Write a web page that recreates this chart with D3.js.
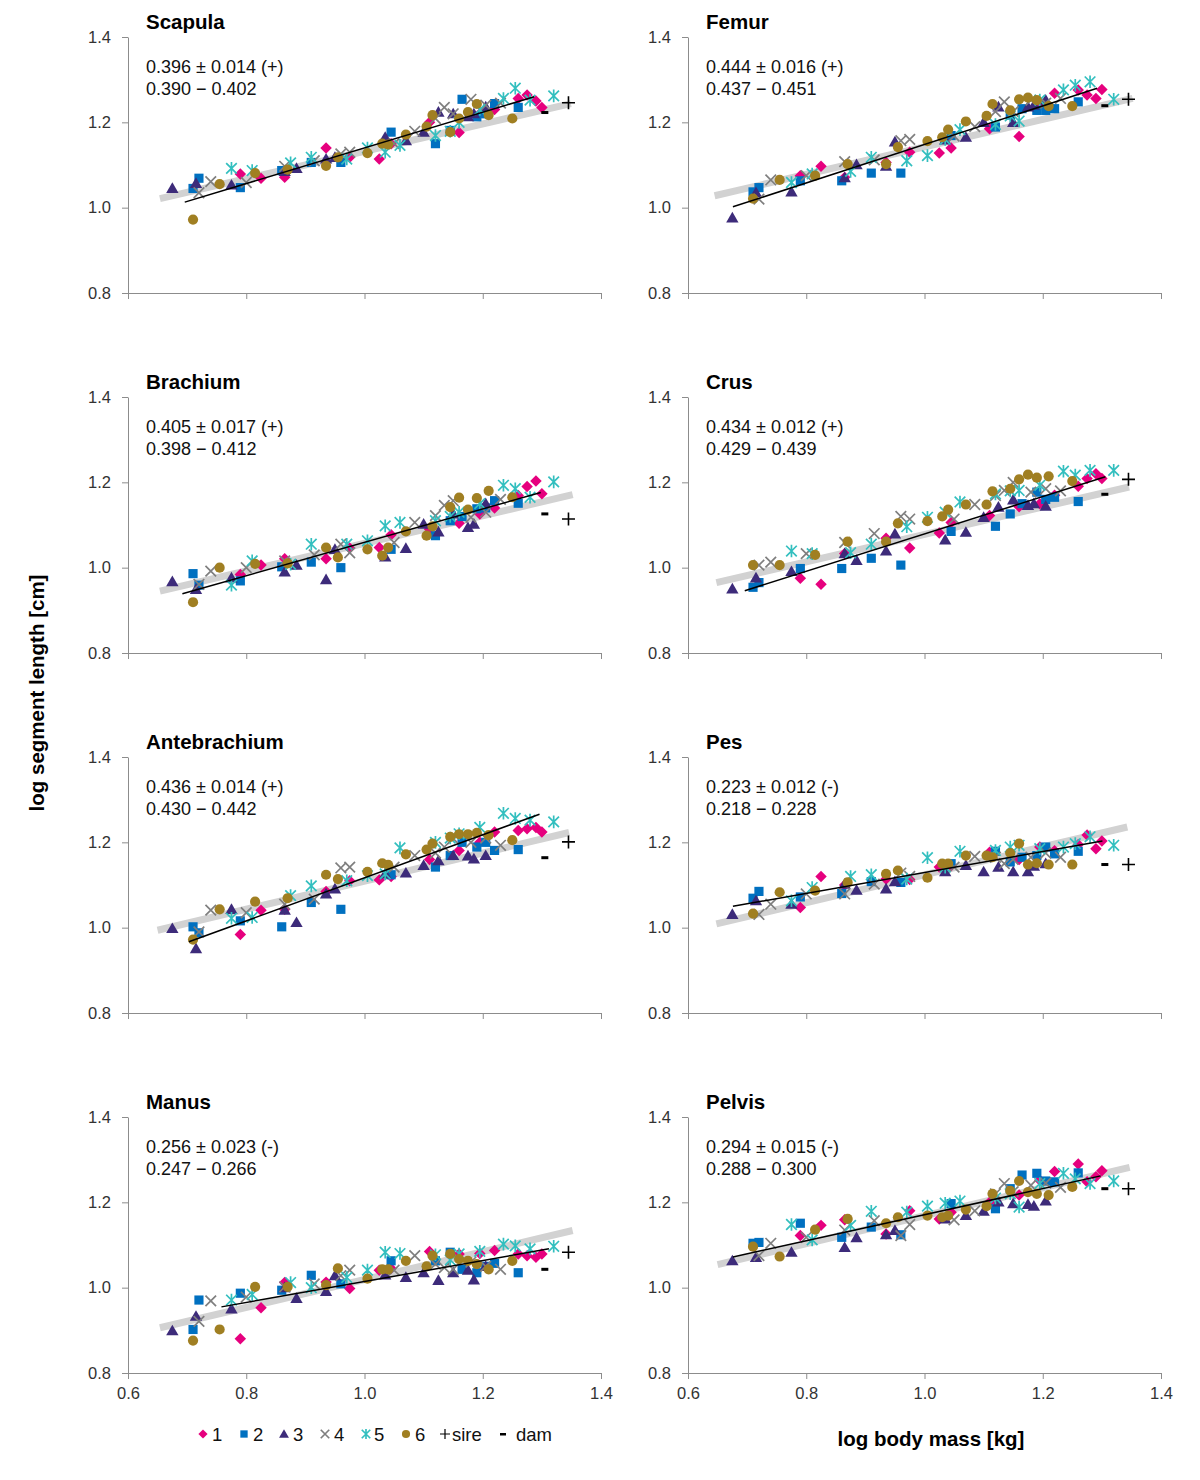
<!DOCTYPE html>
<html><head><meta charset="utf-8">
<script src="https://cdn.jsdelivr.net/npm/d3@7"></script>
<style>body{margin:0;background:#fff}text{font-family:"Liberation Sans",Arial,sans-serif}</style>
</head><body><svg id="c" width="1200" height="1480"></svg>
<script>
const panelNames = ["Scapula","Femur","Brachium","Crus","Antebrachium","Pes","Manus","Pelvis"];
const slopeLines = ["0.396 ± 0.014 (+)","0.444 ± 0.016 (+)","0.405 ± 0.017 (+)","0.434 ± 0.012 (+)","0.436 ± 0.014 (+)","0.223 ± 0.012 (-)","0.256 ± 0.023 (-)","0.294 ± 0.015 (-)"];
const ciLines = ["0.390 − 0.402","0.437 − 0.451","0.398 − 0.412","0.429 − 0.439","0.430 − 0.442","0.218 − 0.228","0.247 − 0.266","0.288 − 0.300"];
const yTicks = [0.8,1.0,1.2,1.4];
const xTicks = [0.6,0.8,1.0,1.2,1.4];
const seriesNames = ["1","2","3","4","5","6"];

// log body mass per series (same sessions in every panel)
const mass1 = [0.79,0.825,0.865,0.935,0.975,1.025,1.045,1.11,1.16,1.195,1.22,1.26,1.275,1.29,1.30];
const mass2 = [0.71,0.72,0.79,0.86,0.91,0.96,1.045,1.12,1.145,1.165,1.19,1.205,1.22,1.26];
const mass3 = [0.675,0.715,0.775,0.865,0.885,0.935,0.95,1.035,1.07,1.1,1.125,1.15,1.175,1.185,1.205];
const mass4 = [0.72,0.74,0.80,0.865,0.915,0.96,0.975,1.05,1.085,1.12,1.135,1.15,1.18,1.205,1.23];
const mass5 = [0.775,0.81,0.875,0.91,0.97,1.005,1.035,1.06,1.12,1.145,1.16,1.195,1.235,1.255,1.28,1.32];
const mass6 = [0.71,0.755,0.815,0.87,0.935,0.955,1.005,1.03,1.04,1.07,1.105,1.115,1.145,1.16,1.175,1.19,1.21,1.25];

// log segment length, one list per series, per panel
const scapula = [
 [1.079,1.069,1.071,1.140,1.118,1.114,1.15,1.2,1.176,1.22,1.23,1.256,1.264,1.25,1.235],
 [1.045,1.069,1.047,1.087,1.106,1.106,1.177,1.15,1.181,1.254,1.213,1.22,1.244,1.235],
 [1.045,1.057,1.053,1.085,1.092,1.114,1.118,1.165,1.157,1.177,1.224,1.22,1.213,1.22,1.236],
 [1.035,1.061,1.059,1.097,1.11,1.126,1.13,1.15,1.179,1.209,1.235,1.22,1.254,1.24,1.245],
 [1.092,1.087,1.105,1.118,1.114,1.14,1.13,1.146,1.169,1.179,1.2,1.23,1.256,1.28,1.252,1.262],
 [0.972,1.055,1.081,1.089,1.098,1.118,1.128,1.15,1.148,1.171,1.19,1.217,1.177,1.209,1.224,1.243,1.217,1.209]];
const femur = [
 [1.075,1.097,1.071,1.106,1.13,1.128,1.14,1.185,1.167,1.24,1.268,1.276,1.264,1.256,1.277],
 [1.037,1.047,1.063,1.063,1.081,1.081,1.169,1.189,1.217,1.232,1.228,1.228,1.232,1.248],
 [0.976,1.035,1.037,1.07,1.101,1.097,1.154,1.159,1.165,1.2,1.236,1.2,1.236,1.24,1.252],
 [1.02,1.065,1.075,1.108,1.112,1.157,1.16,1.168,1.19,1.225,1.248,1.225,1.252,1.245,1.256],
 [1.059,1.079,1.085,1.118,1.11,1.122,1.16,1.183,1.195,1.215,1.203,1.252,1.276,1.287,1.295,1.254],
 [1.021,1.065,1.075,1.102,1.102,1.142,1.156,1.165,1.183,1.202,1.215,1.243,1.228,1.254,1.258,1.252,1.238,1.238]];
const brachium = [
 [0.984,1.006,1.021,1.021,1.046,1.047,1.077,1.09,1.104,1.126,1.14,1.169,1.19,1.203,1.173],
 [0.986,0.959,0.969,1.002,1.013,1.0,1.043,1.075,1.11,1.12,1.138,1.14,1.157,1.151],
 [0.967,0.949,0.976,0.99,1.006,0.972,1.043,1.025,1.045,1.102,1.084,1.126,1.094,1.102,1.15],
 [0.961,0.992,1.0,1.016,1.03,1.055,1.035,1.059,1.106,1.122,1.146,1.157,1.118,1.13,1.16],
 [0.959,1.016,1.008,1.055,1.055,1.063,1.098,1.106,1.11,1.12,1.13,1.15,1.193,1.185,1.165,1.201],
 [0.919,1.0,1.009,1.01,1.047,1.024,1.043,1.028,1.047,1.085,1.075,1.097,1.142,1.164,1.136,1.163,1.18,1.165]];
const crus = [
 [0.975,0.961,1.033,1.069,1.046,1.081,1.106,1.122,1.143,1.15,1.17,1.191,1.209,1.22,1.209],
 [0.954,0.965,0.998,0.998,1.022,1.006,1.085,1.097,1.126,1.15,1.177,1.16,1.165,1.155],
 [0.95,0.976,0.991,1.033,1.017,1.039,1.079,1.065,1.083,1.118,1.142,1.159,1.146,1.15,1.144],
 [1.006,1.013,1.033,1.059,1.08,1.12,1.114,1.114,1.148,1.169,1.181,1.2,1.177,1.185,1.18],
 [1.039,1.033,1.035,1.055,1.096,1.118,1.13,1.154,1.173,1.18,1.181,1.193,1.226,1.217,1.228,1.228],
 [1.006,1.006,1.03,1.061,1.061,1.104,1.109,1.12,1.136,1.148,1.148,1.179,1.185,1.207,1.218,1.211,1.214,1.203]];
const antebrachium = [
 [0.984,1.041,1.043,1.085,1.11,1.112,1.12,1.16,1.181,1.2,1.224,1.228,1.232,1.235,1.224],
 [1.002,0.988,1.016,1.002,1.059,1.043,1.124,1.142,1.169,1.2,1.189,1.2,1.181,1.183],
 [0.998,0.951,1.043,1.041,1.012,1.079,1.091,1.126,1.128,1.146,1.157,1.169,1.168,1.161,1.169],
 [0.99,1.041,1.035,1.055,1.067,1.14,1.142,1.142,1.169,1.175,1.189,1.209,1.2,1.21,1.193],
 [1.022,1.024,1.075,1.098,1.11,1.122,1.126,1.187,1.2,1.21,1.22,1.235,1.268,1.256,1.252,1.248],
 [0.972,1.043,1.061,1.069,1.124,1.114,1.131,1.151,1.147,1.172,1.183,1.197,1.213,1.219,1.219,1.222,1.217,1.205]];
const pes = [
 [1.047,1.12,1.1,1.114,1.113,1.142,1.145,1.177,1.16,1.189,1.18,1.195,1.217,1.185,1.203],
 [1.069,1.085,1.072,1.08,1.108,1.106,1.15,1.179,1.154,1.165,1.169,1.189,1.173,1.179],
 [1.031,1.063,1.055,1.102,1.088,1.091,1.108,1.131,1.146,1.131,1.142,1.131,1.131,1.144,1.15],
 [1.031,1.055,1.079,1.079,1.102,1.128,1.12,1.142,1.167,1.165,1.15,1.16,1.165,1.175,1.165],
 [1.063,1.094,1.12,1.124,1.114,1.164,1.142,1.179,1.181,1.189,1.193,1.185,1.189,1.197,1.213,1.193],
 [1.033,1.083,1.087,1.106,1.126,1.134,1.117,1.15,1.15,1.169,1.169,1.165,1.175,1.197,1.148,1.151,1.148,1.148]];
const manus = [
 [0.88,0.953,1.012,1.013,0.998,1.041,1.045,1.085,1.079,1.08,1.087,1.079,1.075,1.071,1.079],
 [0.902,0.971,0.987,0.994,1.029,1.009,1.063,1.063,1.083,1.043,1.035,1.05,1.057,1.035],
 [0.899,0.933,0.95,1.0,0.975,0.991,1.028,1.03,1.024,1.035,1.017,1.035,1.041,1.018,1.05],
 [0.921,0.969,0.978,1.002,1.009,1.028,1.041,1.041,1.075,1.055,1.047,1.043,1.06,1.05,1.043],
 [0.971,0.984,1.012,1.0,1.024,1.041,1.083,1.08,1.077,1.065,1.079,1.085,1.102,1.098,1.091,1.097],
 [0.876,0.902,1.002,1.002,1.006,1.045,1.021,1.043,1.043,1.063,1.05,1.075,1.079,1.067,1.063,1.055,1.043,1.063]];
const pelvis = [
 [1.122,1.146,1.159,1.126,1.18,1.161,1.177,1.2,1.217,1.252,1.272,1.29,1.248,1.26,1.274],
 [1.104,1.106,1.151,1.118,1.142,1.124,1.197,1.185,1.232,1.264,1.268,1.25,1.248,1.269],
 [1.063,1.071,1.083,1.094,1.117,1.124,1.134,1.161,1.169,1.179,1.201,1.197,1.195,1.191,1.203],
 [1.075,1.104,1.118,1.135,1.157,1.122,1.148,1.159,1.18,1.22,1.244,1.225,1.24,1.245,1.235],
 [1.148,1.112,1.146,1.179,1.177,1.191,1.198,1.203,1.21,1.22,1.189,1.244,1.268,1.255,1.244,1.25],
 [1.096,1.073,1.136,1.161,1.151,1.165,1.169,1.165,1.169,1.183,1.191,1.22,1.227,1.25,1.224,1.22,1.217,1.236]];

// reference (grey) and fitted (black) lines: [x0, y0, x1, y1]
const greyLines = [[0.654,1.021,1.349,1.244],[0.645,1.028,1.352,1.256],[0.654,0.945,1.352,1.171],[0.648,0.965,1.346,1.189],
                   [0.65,0.994,1.346,1.223],[0.648,1.009,1.343,1.236],[0.654,0.906,1.352,1.134],[0.65,1.054,1.347,1.282]];
const blackLines = [[0.696,1.013,1.287,1.26],[0.676,1.002,1.292,1.28],[0.692,0.939,1.298,1.176],[0.696,0.946,1.306,1.213],
                    [0.703,0.967,1.296,1.266],[0.676,1.05,1.301,1.203],[0.758,0.955,1.312,1.091],[0.676,1.072,1.298,1.262]];
const sireMass = 1.345, damMass = 1.305;
const sireLen = [1.246,1.254,1.114,1.207,1.201,1.148,1.083,1.232];
const damLen  = [1.223,1.239,1.126,1.172,1.164,1.148,1.043,1.232];

const masses = [mass1,mass2,mass3,mass4,mass5,mass6];
const panelData = [scapula,femur,brachium,crus,antebrachium,pes,manus,pelvis];
const colors = ["#e6007e","#0070c0","#3d2b7a","#7f7f7f","#33bfbf","#a07f22"];
const axisColor = "#8c8c8c";

const svg = d3.select("#c");
svg.append("rect").attr("width",1200).attr("height",1480).attr("fill","#fff");

function marker(g, k, cx, cy, scale) {
  const s = scale || 1;
  const c = colors[k];
  if (k===0) g.append("path").attr("d", d3.symbol(d3.symbolSquare, 66*s*s)()).attr("transform",`translate(${cx},${cy}) rotate(45)`).attr("fill",c);
  else if (k===1) g.append("path").attr("d", d3.symbol(d3.symbolSquare, 84*s*s)()).attr("transform",`translate(${cx},${cy})`).attr("fill",c);
  else if (k===2) g.append("path").attr("d", d3.symbol(d3.symbolTriangle, 66*s*s)()).attr("transform",`translate(${cx},${cy+1})`).attr("fill",c);
  else if (k===3) { const r=5.3*s; g.append("path").attr("d",`M${cx-r},${cy-r}L${cx+r},${cy+r}M${cx-r},${cy+r}L${cx+r},${cy-r}`).attr("stroke",c).attr("stroke-width",1.7).attr("fill","none"); }
  else if (k===4) { const r=5.3*s, v=6.3*s; g.append("path").attr("d",`M${cx-r},${cy-r}L${cx+r},${cy+r}M${cx-r},${cy+r}L${cx+r},${cy-r}M${cx},${cy-v}L${cx},${cy+v}`).attr("stroke",c).attr("stroke-width",1.7).attr("fill","none"); }
  else g.append("circle").attr("cx",cx).attr("cy",cy).attr("r",5.1*s).attr("fill",c);
}
function plus(g, cx, cy, r, w) {
  g.append("path").attr("d",`M${cx-r},${cy}L${cx+r},${cy}M${cx},${cy-r}L${cx},${cy+r}`).attr("stroke","#000").attr("stroke-width",w).attr("fill","none");
}
function dash(g, cx, cy) {
  g.append("rect").attr("x",cx-3.5).attr("y",cy-1.5).attr("width",7).attr("height",3).attr("fill","#000");
}

const colX = [[128,601],[688,1161]];
const rowTop = [37,397,757,1117];
const rowH = 256;

panelNames.forEach((name, i) => {
  const col = i%2, row = Math.floor(i/2);
  const x = d3.scaleLinear().domain([0.6,1.4]).range(colX[col]);
  const y = d3.scaleLinear().domain([0.8,1.4]).range([rowTop[row]+rowH, rowTop[row]]);
  const g = svg.append("g");

  const ya = g.append("g").attr("transform",`translate(${colX[col][0]},0)`)
    .call(d3.axisLeft(y).tickValues(yTicks).tickFormat(d3.format(".1f")).tickSize(6).tickSizeOuter(0).tickPadding(11));
  const xa = g.append("g").attr("transform",`translate(0,${rowTop[row]+rowH})`)
    .call(d3.axisBottom(x).tickValues(xTicks).tickFormat(row===3 ? d3.format(".1f") : () => "").tickSize(6).tickSizeOuter(0).tickPadding(8));
  [ya,xa].forEach(a => {
    a.select(".domain").attr("stroke",axisColor);
    a.selectAll(".tick line").attr("stroke",axisColor);
    a.selectAll("text").attr("font-size",16.5).attr("fill","#333").attr("font-family",'"Liberation Sans",Arial,sans-serif');
  });

  g.append("text").attr("x",colX[col][0]+18).attr("y",rowTop[row]-8).attr("font-size",20.5).attr("font-weight","bold").attr("fill","#000").text(name);
  g.append("text").attr("x",colX[col][0]+18).attr("y",rowTop[row]+36).attr("font-size",18).attr("fill","#111").text(slopeLines[i]);
  g.append("text").attr("x",colX[col][0]+18).attr("y",rowTop[row]+58).attr("font-size",18).attr("fill","#111").text(ciLines[i]);

  const gl = greyLines[i];
  g.append("line").attr("x1",x(gl[0])).attr("y1",y(gl[1])).attr("x2",x(gl[2])).attr("y2",y(gl[3]))
    .attr("stroke","#d2d2d2").attr("stroke-width",7);

  panelData[i].forEach((vals, k) => {
    vals.forEach((v, j) => marker(g, k, x(masses[k][j]), y(v)));
  });

  plus(g, x(sireMass), y(sireLen[i]), 6.5, 1.6);
  dash(g, x(damMass), y(damLen[i]));

  const bl = blackLines[i];
  g.append("line").attr("x1",x(bl[0])).attr("y1",y(bl[1])).attr("x2",x(bl[2])).attr("y2",y(bl[3]))
    .attr("stroke","#000").attr("stroke-width",1.5);
});

// axis titles
svg.append("text").attr("transform","translate(44,693) rotate(-90)").attr("text-anchor","middle")
  .attr("font-size",20.5).attr("font-weight","bold").text("log segment length [cm]");
svg.append("text").attr("x",931).attr("y",1446).attr("text-anchor","middle")
  .attr("font-size",20.5).attr("font-weight","bold").text("log body mass [kg]");

// legend
const lg = svg.append("g");
const legMarkX = [203,244,284,325,366,406];
const legTextX = [212,253,293,334,374,415];
seriesNames.forEach((n,k) => {
  marker(lg, k, legMarkX[k], 1434, 0.8);
  lg.append("text").attr("x",legTextX[k]).attr("y",1441).attr("font-size",18.5).attr("fill","#111").text(n);
});
plus(lg, 445, 1434, 5, 1.2);
lg.append("text").attr("x",452).attr("y",1441).attr("font-size",18.5).attr("fill","#111").text("sire");
lg.append("rect").attr("x",500).attr("y",1433).attr("width",6).attr("height",2.5).attr("fill","#000");
lg.append("text").attr("x",516).attr("y",1441).attr("font-size",18.5).attr("fill","#111").text("dam");
</script></body></html>
